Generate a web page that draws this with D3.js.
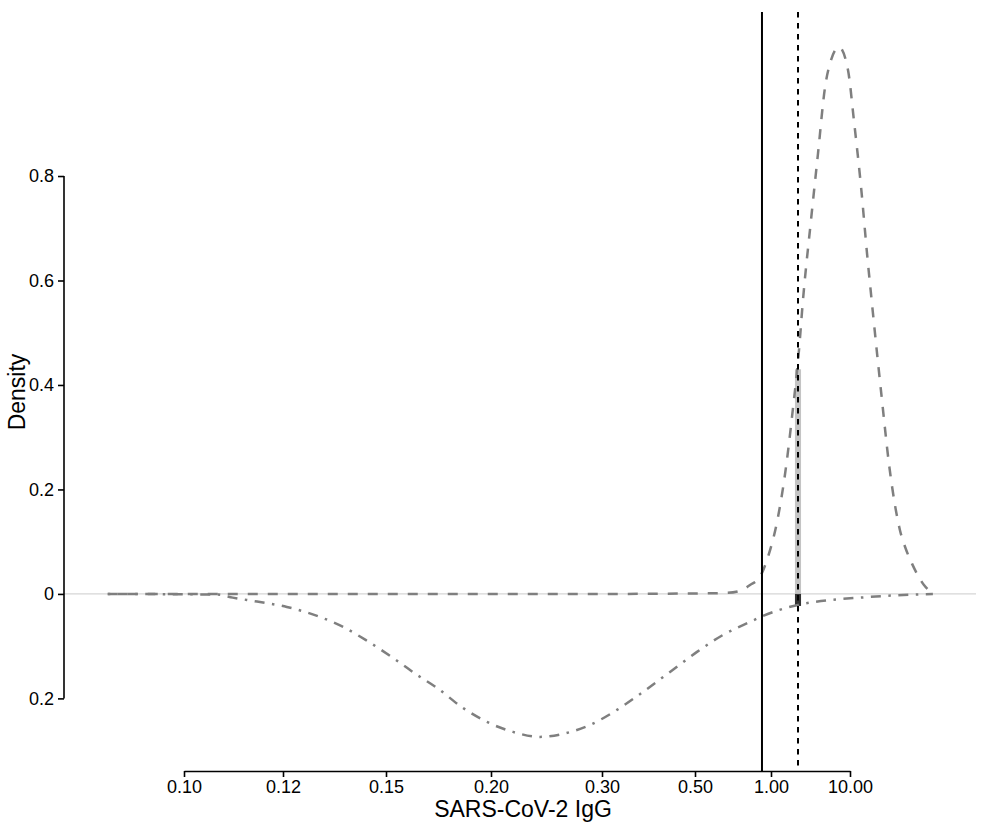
<!DOCTYPE html>
<html>
<head>
<meta charset="utf-8">
<script src="https://cdn.jsdelivr.net/npm/d3@7"></script>
<style>
  body { margin: 0; background: #fff; }
  svg text { font-family: "Liberation Sans", Arial, sans-serif; }
</style>
</head>
<body>
<svg width="985" height="837"></svg>
<script>
// x axis breaks (IgG ratio) and the tick labels shown
var xTicks = [0.1, 0.12, 0.15, 0.2, 0.3, 0.5, 1, 10];
var yTicks = [-0.2, 0, 0.2, 0.4, 0.6, 0.8];

// upper density (dashed), drawn above zero
var upperIgG = [0.0869, 0.30, 0.52, 0.669, 0.754, 0.826, 0.905, 0.973, 1.226, 1.549,
    1.845, 2.262, 2.541, 3.21, 3.94, 4.83, 5.75, 7.26, 9.43, 11.2,
    13.8, 16.4, 19.5, 25.4, 31.2, 37.1, 42.9, 51.2, 60.9, 72.6, 86.4, 103, 119];
var upperDensity = [0, 0, 0.001, 0.002, 0.006, 0.017, 0.033, 0.071, 0.147, 0.243,
    0.339, 0.467, 0.563, 0.716, 0.844, 0.970, 1.022, 1.047, 1.003, 0.907,
    0.779, 0.653, 0.538, 0.371, 0.248, 0.170, 0.122, 0.085, 0.058, 0.035, 0.017, 0.005, 0];

// lower density (dot-dash), mirrored below zero
var lowerIgG = [0.0869, 0.1063, 0.1094, 0.1144, 0.1210, 0.1292, 0.1367, 0.1440, 0.1517, 0.1633,
    0.1725, 0.1852, 0.1978, 0.2167, 0.2392, 0.2602, 0.2873, 0.3257, 0.3758, 0.4359,
    0.5092, 0.6455, 0.826, 0.9297, 2.197, 17.9, 112];
var lowerDensity = [0, 0.0013, 0.0071, 0.0147, 0.0249, 0.0421, 0.0631, 0.0899, 0.1186, 0.1550,
    0.1799, 0.2182, 0.2450, 0.2641, 0.2737, 0.2679, 0.2507, 0.2220, 0.1876, 0.1493,
    0.1110, 0.0785, 0.0536, 0.0421, 0.0211, 0.0057, 0];

// small bar at the positive cutoff: light part up, dark part down
var barIgG = [2.01, 2.40];
var barUp = 0.43;
var barDown = 0.023;

// cutoff lines
var cutSolid = 0.921;
var cutDashed = 2.197;

var svg = d3.select("svg");

// tick positions along the axis (non-uniform log transform in the original)
var xTickPos = [184, 283, 386, 491, 602, 695, 771, 850];
var x = d3.scaleLog().domain(xTicks).range(xTickPos);
var y = d3.scaleLinear().domain([-0.339, 1.114]).range([771, 12]);

var grey = "#7f7f7f";

// zero reference line
svg.append("line")
    .attr("x1", 64).attr("x2", 976)
    .attr("y1", y(0)).attr("y2", y(0))
    .attr("stroke", "#d6d6d6").attr("stroke-width", 1.2);

// bars
svg.append("rect")
    .attr("x", x(barIgG[0])).attr("width", x(barIgG[1]) - x(barIgG[0]))
    .attr("y", y(barUp)).attr("height", y(0) - y(barUp))
    .attr("fill", "#c4c4c4");
svg.append("rect")
    .attr("x", x(barIgG[0])).attr("width", x(barIgG[1]) - x(barIgG[0]))
    .attr("y", y(0)).attr("height", y(-barDown) - y(0))
    .attr("fill", "#333");

var line = d3.line()
    .x(function (d) { return x(d[0]); })
    .y(function (d) { return y(d[1]); })
    .curve(d3.curveMonotoneX);

svg.append("path")
    .attr("d", line(upperIgG.map(function (v, i) { return [v, upperDensity[i]]; })))
    .attr("fill", "none").attr("stroke", grey).attr("stroke-width", 2.5)
    .attr("stroke-dasharray", "10,10");

svg.append("path")
    .attr("d", line(lowerIgG.map(function (v, i) { return [v, -lowerDensity[i]]; })))
    .attr("fill", "none").attr("stroke", grey).attr("stroke-width", 2.5)
    .attr("stroke-dasharray", "2.5,7.5,10,7.5");

// cutoff lines
svg.append("line")
    .attr("x1", x(cutSolid)).attr("x2", x(cutSolid))
    .attr("y1", y.range()[1]).attr("y2", y.range()[0])
    .attr("stroke", "#000").attr("stroke-width", 2);
svg.append("line")
    .attr("x1", x(cutDashed)).attr("x2", x(cutDashed))
    .attr("y1", y.range()[1]).attr("y2", y.range()[0])
    .attr("stroke", "#000").attr("stroke-width", 2)
    .attr("stroke-dasharray", "5.5,5.5");

// x axis
var xAxis = svg.append("g")
    .attr("transform", "translate(0," + 771 + ")")
    .call(d3.axisBottom(x).tickValues(xTicks).tickFormat(d3.format(".2f"))
        .tickSize(6).tickSizeOuter(0).tickPadding(3));
xAxis.attr("font-size", null).attr("font-family", null);
xAxis.select(".domain").attr("stroke-width", 1.6);
xAxis.selectAll(".tick line").attr("stroke-width", 1.6);
xAxis.selectAll("text").style("font-size", "18px").attr("fill", "#000");

// y axis
var yAxis = svg.append("g")
    .attr("transform", "translate(64,0)")
    .call(d3.axisLeft(y).tickValues(yTicks)
        .tickFormat(function (d) { return d === 0 ? "0" : d3.format(".1f")(Math.abs(d)); })
        .tickSize(6).tickPadding(4));
yAxis.attr("font-size", null).attr("font-family", null);
yAxis.select(".domain").remove();
yAxis.append("line")
    .attr("y1", y(yTicks[0])).attr("y2", y(yTicks[yTicks.length - 1]))
    .attr("stroke", "#000").attr("stroke-width", 1.6);
yAxis.selectAll(".tick line").attr("stroke-width", 1.6);
yAxis.selectAll("text").style("font-size", "18px").attr("fill", "#000");

// axis titles
svg.append("text")
    .attr("x", 523).attr("y", 817)
    .attr("text-anchor", "middle")
    .style("font-size", "23px")
    .text("SARS-CoV-2 IgG");

svg.append("text")
    .attr("transform", "translate(25,392) rotate(-90)")
    .attr("text-anchor", "middle")
    .style("font-size", "23px")
    .text("Density");
</script>
</body>
</html>
